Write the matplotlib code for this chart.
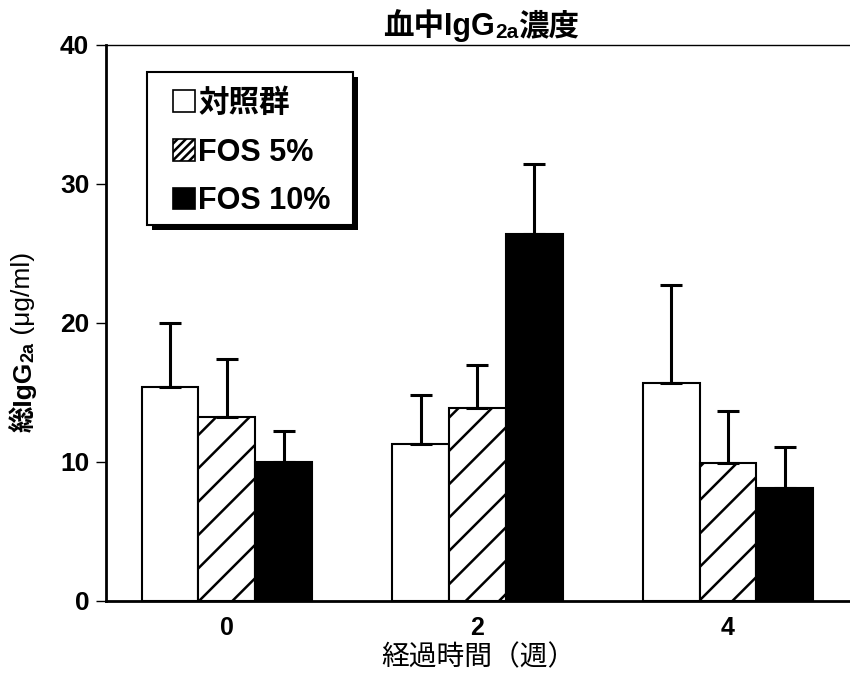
import matplotlib
matplotlib.use("Agg")
import matplotlib.pyplot as plt
from matplotlib.patches import Patch, Rectangle
import numpy as np

plt.rcParams['font.family'] = ['Liberation Sans', 'Noto Sans CJK JP', 'DejaVu Sans']
plt.rcParams['hatch.linewidth'] = 1.8

weeks = ['0', '2', '4']
groups = ['対照群', 'FOS 5%', 'FOS 10%']

ctrl_mean = [15.4, 11.3, 15.7]
ctrl_err = [4.6, 3.5, 7.0]
fos5_mean = [13.2, 13.9, 9.9]
fos5_err = [4.2, 3.1, 3.75]
fos10_mean = [10.0, 26.4, 8.1]
fos10_err = [2.2, 5.0, 3.0]

means = [ctrl_mean, fos5_mean, fos10_mean]
errs = [ctrl_err, fos5_err, fos10_err]
faces = ['white', 'white', 'black']
hatches = [None, '/', None]

fig = plt.figure(figsize=(8.5, 6.76), dpi=100)
ax = fig.add_axes([0.1247, 0.111, 0.8753, 0.8225])

x = np.arange(len(weeks))
width = 0.2275
for i in range(3):
    pos = x + (i - 1) * width
    ax.bar(pos, means[i], width, color=faces[i], edgecolor='black',
           linewidth=1.5, hatch=hatches[i], zorder=2)
    # only the upper half of the error bar is shown
    ax.errorbar(pos, means[i], yerr=[np.zeros(3), errs[i]], fmt='none',
                ecolor='black', elinewidth=2.2, capsize=8, capthick=2.2, zorder=3)

ax.set_xlim(-0.483, 2.487)
ax.set_ylim(0, 40)
ax.set_yticks([0, 10, 20, 30, 40])
ax.set_xticks(x)
ax.set_xticklabels(weeks)
ax.tick_params(axis='y', direction='out', length=7, width=1, pad=5, labelsize=19)
ax.tick_params(axis='x', length=0, pad=11, labelsize=18)
for lab in ax.get_xticklabels() + ax.get_yticklabels():
    lab.set_fontweight('bold')

ax.spines['right'].set_visible(False)
ax.spines['left'].set_linewidth(2)
ax.spines['bottom'].set_linewidth(2)
ax.spines['top'].set_linewidth(1)

# legend: framed box with a hard black drop shadow
box_x, box_y, box_w, box_h = 0.0551, 0.6763, 0.2769, 0.2752
ax.add_patch(Rectangle((box_x + 0.0067, box_y - 0.009), box_w, box_h,
                       transform=ax.transAxes, facecolor='black',
                       edgecolor='none', zorder=4, clip_on=False))
ax.add_patch(Rectangle((box_x, box_y), box_w, box_h, transform=ax.transAxes,
                       facecolor='white', edgecolor='black', linewidth=1.5,
                       zorder=4.5, clip_on=False))
handles = [Patch(facecolor=faces[i], edgecolor='black', linewidth=1.2,
                 hatch='////' if hatches[i] else None) for i in range(3)]
leg = ax.legend(handles, groups, loc='upper left', bbox_to_anchor=(0.090, 0.921),
                frameon=False, borderpad=0, borderaxespad=0,
                handlelength=0.72, handleheight=0.72,
                handletextpad=0.1, labelspacing=0.61,
                prop={'size': 22, 'weight': 'bold'})
leg.set_zorder(5)

# title with small "2a"
t1 = fig.text(0.4506, 0.948, '血中IgG', fontsize=22, fontweight='bold',
              ha='left', va='baseline')
t2 = ax.annotate('2a', xy=(1, 0), xycoords=t1, fontsize=15, fontweight='bold',
                 ha='left', va='bottom')
ax.annotate('濃度', xy=(1, 0), xycoords=(t2, t1), fontsize=22, fontweight='bold',
            ha='left', va='bottom')

# y label, rotated pieces
y1 = fig.text(0.027, 0.361, '総IgG', fontsize=19, fontweight='bold',
              rotation=90, ha='center', va='bottom')
y2 = ax.annotate('2a', xy=(1, 1), xycoords=y1, fontsize=13, fontweight='bold',
                 rotation=90, ha='right', va='bottom')
ax.annotate(' (μg/ml)', xy=(0.5, 1), xycoords=(y1, y2), fontsize=19,
            rotation=90, ha='center', va='bottom')

fig.text(0.5624, 0.026, '経過時間（週）', fontsize=20, ha='center', va='center')

fig.savefig('out.png', dpi=100)
